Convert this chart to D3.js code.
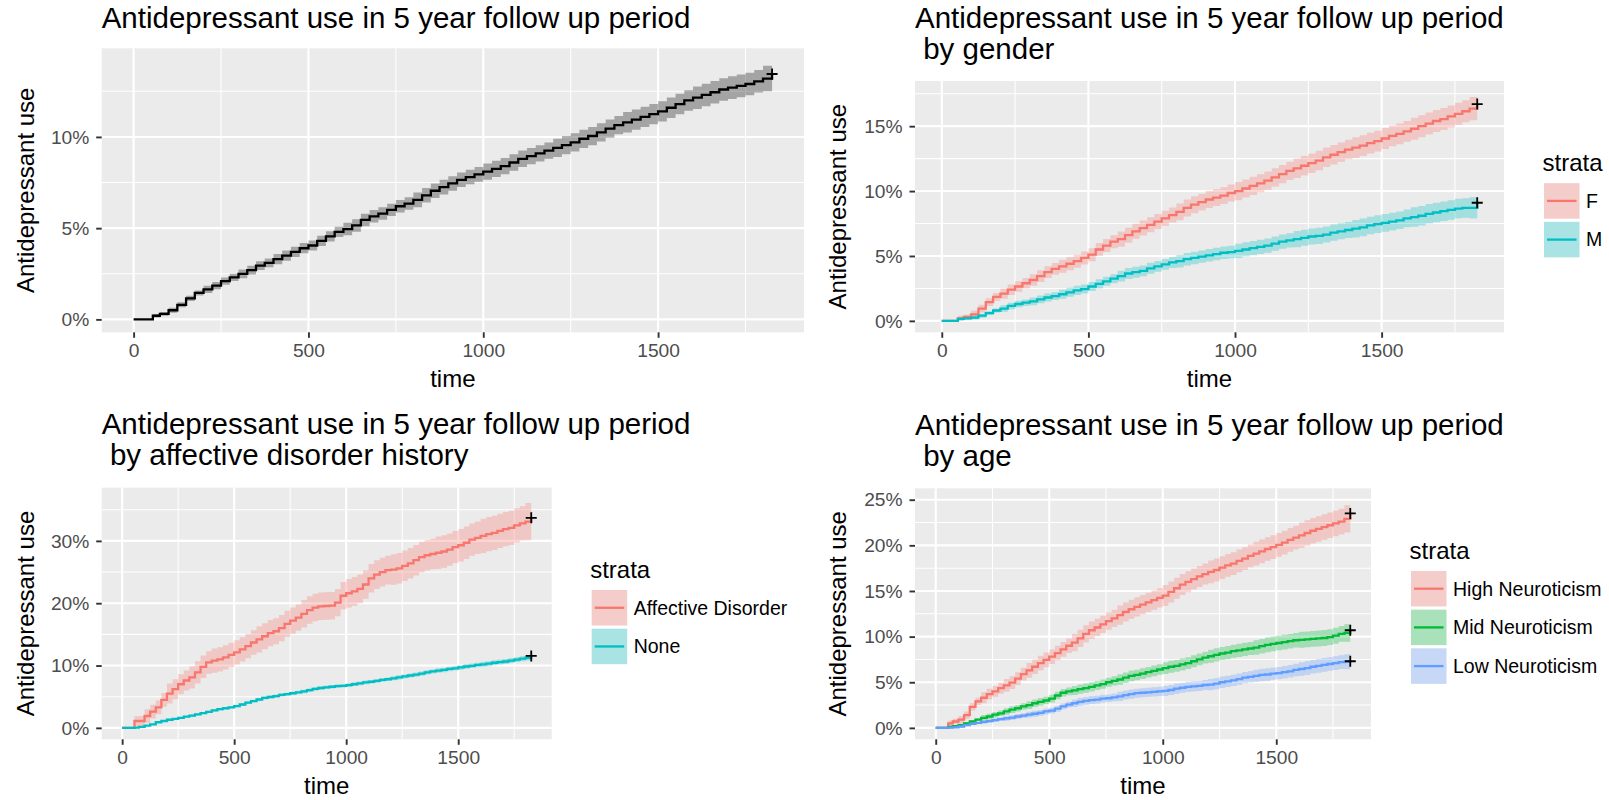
<!DOCTYPE html>
<html>
<head>
<meta charset="utf-8">
<script src="https://cdn.jsdelivr.net/npm/d3@7"></script>
<style>
  body { margin: 0; background: #ffffff; }
  text { font-family: "Liberation Sans", Arial, Helvetica, sans-serif; }
</style>
</head>
<body>
<svg id="chart" width="1609" height="800"></svg>
<script>
// Follow-up time grid (days) shared by every cumulative-incidence curve
const times = [0, 55, 75, 100, 125, 150, 175, 200, 225, 250, 275, 300, 325, 350, 375, 400,
  425, 450, 475, 500, 525, 550, 575, 600, 625, 650, 675, 700, 725, 750, 775, 800,
  825, 850, 875, 900, 925, 950, 975, 1000, 1025, 1050, 1075, 1100, 1125, 1150, 1175, 1200,
  1225, 1250, 1275, 1300, 1325, 1350, 1375, 1400, 1425, 1450, 1475, 1500, 1525, 1550, 1575, 1600,
  1625, 1650, 1675, 1700, 1725, 1750, 1775, 1800, 1826];

// Times at which the confidence half-width changes
const hwTimes = [0, 55, 100, 200, 300, 400, 600, 800, 1000, 1200, 1400, 1600, 1800];

// Cumulative antidepressant use (%), whole cohort
const estAll = [0, 0.2, 0.3, 0.5, 0.8, 1.15, 1.45, 1.65, 1.85, 2.1, 2.3, 2.5, 2.7, 2.95, 3.1, 3.3,
  3.5, 3.7, 3.9, 4.05, 4.3, 4.55, 4.8, 4.95, 5.15, 5.45, 5.65, 5.8, 6.0, 6.2, 6.35, 6.55,
  6.8, 7.05, 7.25, 7.45, 7.65, 7.8, 7.95, 8.1, 8.25, 8.4, 8.6, 8.8, 8.95, 9.1, 9.25, 9.4,
  9.55, 9.7, 9.9, 10.05, 10.25, 10.45, 10.65, 10.8, 10.95, 11.1, 11.25, 11.4, 11.6, 11.8, 12.0, 12.15,
  12.3, 12.45, 12.6, 12.7, 12.8, 12.9, 13.05, 13.2, 13.45];
const hwAll = [0, 0.1, 0.14, 0.2, 0.24, 0.28, 0.34, 0.4, 0.45, 0.5, 0.56, 0.62, 0.7];

// By gender
const strataGender = ["F", "M"];
const estF = [0, 0.2, 0.3, 0.5, 0.95, 1.45, 1.85, 2.1, 2.4, 2.65, 2.9, 3.15, 3.45, 3.75, 4.0, 4.2,
  4.4, 4.6, 4.85, 5.1, 5.5, 5.8, 6.1, 6.3, 6.6, 6.9, 7.15, 7.4, 7.65, 7.9, 8.15, 8.4,
  8.7, 8.95, 9.15, 9.35, 9.5, 9.65, 9.85, 10.0, 10.2, 10.4, 10.6, 10.8, 11.05, 11.3, 11.55, 11.75,
  11.95, 12.15, 12.35, 12.6, 12.8, 13.0, 13.2, 13.35, 13.5, 13.7, 13.85, 14.05, 14.25, 14.4, 14.6, 14.8,
  15.0, 15.2, 15.4, 15.55, 15.75, 15.95, 16.15, 16.35, 16.7];
const hwF = [0, 0.2, 0.3, 0.4, 0.45, 0.5, 0.58, 0.65, 0.7, 0.75, 0.8, 0.85, 0.9];
const estM = [0, 0.15, 0.2, 0.25, 0.4, 0.6, 0.8, 0.95, 1.15, 1.3, 1.4, 1.5, 1.65, 1.8, 1.9, 2.05,
  2.2, 2.35, 2.45, 2.65, 2.85, 3.05, 3.25, 3.45, 3.65, 3.75, 3.85, 4.05, 4.2, 4.35, 4.5, 4.6,
  4.75, 4.85, 4.95, 5.05, 5.15, 5.25, 5.3, 5.4, 5.5, 5.6, 5.7, 5.8, 5.95, 6.1, 6.2, 6.3,
  6.4, 6.5, 6.55, 6.65, 6.8, 6.9, 7.0, 7.1, 7.2, 7.35, 7.45, 7.55, 7.65, 7.75, 7.9, 8.0,
  8.1, 8.25, 8.35, 8.45, 8.55, 8.65, 8.7, 8.7, 9.1];
const hwM = [0, 0.1, 0.15, 0.25, 0.3, 0.35, 0.42, 0.48, 0.55, 0.62, 0.68, 0.75, 0.82];

// By affective disorder history
const strataAffective = ["Affective Disorder", "None"];
const estAffective = [0, 1.1, 1.1, 1.9, 2.6, 3.3, 4.5, 5.5, 6.2, 7.0, 7.6, 8.1, 8.9, 9.8, 10.5, 10.8,
  11.0, 11.3, 11.7, 12.1, 12.6, 13.1, 13.7, 14.2, 14.7, 15.2, 15.5, 16.0, 16.7, 17.2, 17.7, 18.3,
  18.9, 19.3, 19.5, 19.55, 19.6, 20.1, 21.2, 21.6, 21.9, 22.3, 23.0, 24.0, 24.6, 25.0, 25.3, 25.4,
  25.6, 26.0, 26.4, 26.9, 27.4, 27.7, 27.9, 28.1, 28.3, 28.6, 29.0, 29.3, 29.7, 30.2, 30.5, 30.8,
  31.1, 31.3, 31.6, 31.9, 32.1, 32.5, 32.8, 33.1, 33.7];
const hwAffective = [0, 0.8, 1.1, 1.6, 1.8, 1.95, 2.1, 2.2, 2.3, 2.45, 2.6, 2.75, 3.0];
const estNone = [0, 0.05, 0.15, 0.35, 0.55, 0.9, 1.1, 1.3, 1.45, 1.6, 1.8, 1.95, 2.15, 2.35, 2.55, 2.8,
  3.0, 3.15, 3.3, 3.5, 3.75, 4.05, 4.3, 4.55, 4.8, 4.95, 5.1, 5.3, 5.4, 5.55, 5.7, 5.85,
  6.05, 6.25, 6.4, 6.5, 6.6, 6.7, 6.75, 6.85, 7.0, 7.15, 7.3, 7.4, 7.55, 7.7, 7.8, 7.95,
  8.1, 8.25, 8.4, 8.55, 8.7, 8.9, 9.05, 9.2, 9.3, 9.45, 9.55, 9.7, 9.85, 9.95, 10.1, 10.2,
  10.3, 10.45, 10.55, 10.65, 10.8, 10.95, 11.1, 11.25, 11.55];
const hwNone = [0, 0.05, 0.1, 0.15, 0.18, 0.2, 0.25, 0.28, 0.3, 0.33, 0.36, 0.4, 0.45];

// By neuroticism group
const strataAge = ["High Neuroticism", "Mid Neuroticism", "Low Neuroticism"];
const estHigh = [0, 0.5, 0.7, 0.9, 1.4, 2.3, 2.9, 3.3, 3.7, 4.0, 4.35, 4.65, 4.95, 5.4, 5.9, 6.3,
  6.7, 7.1, 7.45, 7.8, 8.2, 8.6, 9.0, 9.35, 9.8, 10.3, 10.7, 11.0, 11.35, 11.7, 12.0, 12.35,
  12.7, 13.0, 13.25, 13.5, 13.75, 14.0, 14.25, 14.5, 14.9, 15.3, 15.7, 16.0, 16.3, 16.6, 16.85, 17.1,
  17.3, 17.55, 17.8, 18.0, 18.3, 18.55, 18.85, 19.1, 19.35, 19.6, 19.8, 20.05, 20.3, 20.6, 20.85, 21.1,
  21.35, 21.6, 21.8, 22.0, 22.2, 22.4, 22.6, 22.9, 23.5];
const hwHigh = [0, 0.3, 0.4, 0.6, 0.7, 0.8, 0.95, 1.05, 1.15, 1.25, 1.3, 1.4, 1.5];
const estMid = [0, 0.1, 0.2, 0.3, 0.5, 0.7, 0.9, 1.1, 1.25, 1.45, 1.6, 1.8, 2.0, 2.15, 2.35, 2.5,
  2.7, 2.85, 3.0, 3.2, 3.55, 3.85, 4.0, 4.1, 4.25, 4.35, 4.5, 4.65, 4.8, 5.0, 5.15, 5.3,
  5.5, 5.7, 5.8, 5.95, 6.1, 6.25, 6.4, 6.55, 6.7, 6.8, 6.95, 7.1, 7.3, 7.5, 7.7, 7.85,
  8.0, 8.15, 8.25, 8.4, 8.5, 8.6, 8.7, 8.8, 8.95, 9.1, 9.2, 9.3, 9.4, 9.5, 9.6, 9.65,
  9.7, 9.75, 9.8, 9.85, 9.95, 10.1, 10.3, 10.4, 10.7];
const hwMid = [0, 0.1, 0.15, 0.3, 0.36, 0.42, 0.5, 0.58, 0.65, 0.72, 0.8, 0.87, 0.95];
const estLow = [0, 0.03, 0.05, 0.15, 0.3, 0.45, 0.55, 0.65, 0.75, 0.85, 0.95, 1.05, 1.12, 1.25, 1.35, 1.45,
  1.55, 1.65, 1.8, 1.9, 2.1, 2.35, 2.55, 2.7, 2.85, 2.95, 3.05, 3.1, 3.2, 3.25, 3.35, 3.45,
  3.6, 3.7, 3.8, 3.85, 3.9, 3.95, 4.0, 4.05, 4.15, 4.3, 4.4, 4.5, 4.55, 4.6, 4.7, 4.75,
  4.85, 5.0, 5.1, 5.2, 5.35, 5.5, 5.6, 5.7, 5.8, 5.85, 5.95, 6.0, 6.1, 6.2, 6.35, 6.45,
  6.55, 6.7, 6.8, 6.9, 7.0, 7.1, 7.2, 7.25, 7.3];
const hwLow = [0, 0.05, 0.1, 0.2, 0.26, 0.32, 0.42, 0.5, 0.55, 0.62, 0.68, 0.75, 0.82];

// Axis tick labels
const xTicks = [0, 500, 1000, 1500];
const yTicksAll = [0, 5, 10];
const yTicksGender = [0, 5, 10, 15];
const yTicksAffective = [0, 10, 20, 30];
const yTicksAge = [0, 5, 10, 15, 20, 25];

const titleMain = "Antidepressant use in 5 year follow up period";
const hue2 = ["#F8766D", "#00BFC4"];
const hue3 = ["#F8766D", "#00BA38", "#619CFF"];

const panels = [
  { title: [titleMain], box: { x0: 101.7, x1: 804, y0: 48.3, y1: 332.3 }, yTitleX: 33.5,
    yTicks: yTicksAll, legend: null,
    strata: [{ est: estAll, hw: hwAll, color: "#000000" }] },
  { title: [titleMain, " by gender"], box: { x0: 915, x1: 1504, y0: 81, y1: 332.3 }, yTitleX: 846,
    yTicks: yTicksGender, legend: strataGender,
    strata: [{ est: estF, hw: hwF, color: hue2[0] }, { est: estM, hw: hwM, color: hue2[1] }] },
  { title: [titleMain, " by affective disorder history"], box: { x0: 101.7, x1: 551.7, y0: 487.7, y1: 739.3 }, yTitleX: 33.5,
    yTicks: yTicksAffective, legend: strataAffective,
    strata: [{ est: estAffective, hw: hwAffective, color: hue2[0] }, { est: estNone, hw: hwNone, color: hue2[1] }] },
  { title: [titleMain, " by age"], box: { x0: 915, x1: 1371, y0: 488.3, y1: 739.3 }, yTitleX: 846,
    yTicks: yTicksAge, legend: strataAge,
    strata: [{ est: estHigh, hw: hwHigh, color: hue3[0] }, { est: estMid, hw: hwMid, color: hue3[1] }, { est: estLow, hw: hwLow, color: hue3[2] }] }
];

const svg = d3.select("#chart");
const TITLE_SIZE = 29.5, AXIS_TITLE_SIZE = 24, TICK_SIZE = 19.2, LEGEND_SIZE = 19.5;
const LINE_W = 2.3, RIBBON_ALPHA = 0.3;

function halfWidthAt(hw, t) {
  const i = d3.bisectRight(hwTimes, t) - 1;
  return hw[Math.max(0, i)];
}

function minorBreaks(major, lo, hi) {
  const step = major[1] - major[0];
  const out = [];
  for (let i = -1; i < major.length; i++) {
    const v = (i < 0 ? major[0] - step : major[i]) + step / 2;
    if (v > lo && v < hi) out.push(v);
  }
  return out;
}

function drawPanel(p) {
  const { x0, x1, y0, y1 } = p.box;
  const g = svg.append("g");
  const tMax = d3.max(times);
  const x = d3.scaleLinear().domain([-0.05 * tMax, 1.05 * tMax]).range([x0, x1]);

  const bands = p.strata.map(s => times.map((t, i) => {
    const h = halfWidthAt(s.hw, t);
    return { t, est: s.est[i], lo: Math.max(0, s.est[i] - h), hi: s.est[i] + h };
  }));
  const yMax = d3.max(bands.flat(), d => d.hi);
  const y = d3.scaleLinear().domain([-0.05 * yMax, 1.05 * yMax]).range([y1, y0]);

  // panel background and grid
  g.append("rect").attr("x", x0).attr("y", y0).attr("width", x1 - x0).attr("height", y1 - y0).attr("fill", "#EBEBEB");
  const xd = x.domain(), yd = y.domain();
  g.selectAll(".xminor").data(minorBreaks(xTicks, xd[0], xd[1])).join("line")
    .attr("x1", d => x(d)).attr("x2", d => x(d)).attr("y1", y0).attr("y2", y1)
    .attr("stroke", "#fff").attr("stroke-width", 1.05);
  g.selectAll(".yminor").data(minorBreaks(p.yTicks, yd[0], yd[1])).join("line")
    .attr("y1", d => y(d)).attr("y2", d => y(d)).attr("x1", x0).attr("x2", x1)
    .attr("stroke", "#fff").attr("stroke-width", 1.05);
  g.selectAll(".xmajor").data(xTicks).join("line")
    .attr("x1", d => x(d)).attr("x2", d => x(d)).attr("y1", y0).attr("y2", y1)
    .attr("stroke", "#fff").attr("stroke-width", 2.1);
  g.selectAll(".ymajor").data(p.yTicks).join("line")
    .attr("y1", d => y(d)).attr("y2", d => y(d)).attr("x1", x0).attr("x2", x1)
    .attr("stroke", "#fff").attr("stroke-width", 2.1);

  // confidence ribbons, step lines and censor marks
  const area = d3.area().curve(d3.curveStepAfter).x(d => x(d.t)).y0(d => y(d.lo)).y1(d => y(d.hi));
  const line = d3.line().curve(d3.curveStepAfter).x(d => x(d.t)).y(d => y(d.est));
  bands.forEach((b, i) => {
    g.append("path").attr("d", area(b)).attr("fill", p.strata[i].color).attr("fill-opacity", RIBBON_ALPHA);
  });
  bands.forEach((b, i) => {
    g.append("path").attr("d", line(b)).attr("fill", "none").attr("stroke", p.strata[i].color)
      .attr("stroke-width", LINE_W).attr("stroke-linejoin", "miter");
  });
  bands.forEach(b => {
    const last = b[b.length - 1];
    g.append("path").attr("d", "M-5.5,0H5.5M0,-5.5V5.5")
      .attr("transform", `translate(${x(last.t)},${y(last.est)})`)
      .attr("stroke", "#000").attr("stroke-width", 1.8).attr("fill", "none");
  });

  // axes
  const ax = g.append("g").attr("transform", `translate(0,${y1})`)
    .call(d3.axisBottom(x).tickValues(xTicks).tickFormat(d3.format("d")).tickSize(5.5).tickPadding(5.9));
  const ay = g.append("g").attr("transform", `translate(${x0},0)`)
    .call(d3.axisLeft(y).tickValues(p.yTicks).tickFormat(d => d + "%").tickSize(5.5).tickPadding(6.9));
  [ax, ay].forEach(a => {
    a.select(".domain").remove();
    a.attr("font-family", null).attr("font-size", TICK_SIZE);
    a.selectAll(".tick line").attr("stroke", "#333333").attr("stroke-width", 1.9);
    a.selectAll(".tick text").attr("fill", "#4D4D4D");
  });

  // axis titles
  g.append("text").attr("x", (x0 + x1) / 2).attr("y", y1 + 55).attr("text-anchor", "middle")
    .attr("font-size", AXIS_TITLE_SIZE).attr("fill", "#000").text("time");
  g.append("text").attr("transform", `translate(${p.yTitleX},${(y0 + y1) / 2}) rotate(-90)`)
    .attr("text-anchor", "middle").attr("font-size", AXIS_TITLE_SIZE).attr("fill", "#000")
    .text("Antidepressant use");

  // plot title
  const firstBase = p.title.length === 1 ? 28.3 : y0 - 53.3;
  const tt = g.append("text").attr("font-size", TITLE_SIZE).attr("fill", "#000").style("white-space", "pre");
  p.title.forEach((s, i) => {
    tt.append("tspan").attr("x", x0).attr("y", firstBase + i * 31).text(s);
  });

  // legend
  if (p.legend) {
    const key = 35.5, step = 38.7;
    const lx = x1 + 40;
    const top = (y0 + y1) / 2 - (p.legend.length * step) / 2 + 15.2;
    g.append("text").attr("x", lx - 1.5).attr("y", top - 12).attr("font-size", AXIS_TITLE_SIZE)
      .attr("fill", "#000").text("strata");
    p.legend.forEach((name, i) => {
      const ky = top + i * step;
      const col = p.strata[i].color;
      g.append("rect").attr("x", lx).attr("y", ky).attr("width", key).attr("height", key).attr("fill", "#F2F2F2");
      g.append("rect").attr("x", lx).attr("y", ky).attr("width", key).attr("height", key)
        .attr("fill", col).attr("fill-opacity", RIBBON_ALPHA);
      g.append("line").attr("x1", lx + 3).attr("x2", lx + key - 3).attr("y1", ky + key / 2).attr("y2", ky + key / 2)
        .attr("stroke", col).attr("stroke-width", LINE_W);
      g.append("text").attr("x", lx + 42).attr("y", ky + key / 2).attr("dy", "0.35em")
        .attr("font-size", LEGEND_SIZE).attr("fill", "#000").text(name);
    });
  }
}

panels.forEach(drawPanel);
</script>
</body>
</html>
